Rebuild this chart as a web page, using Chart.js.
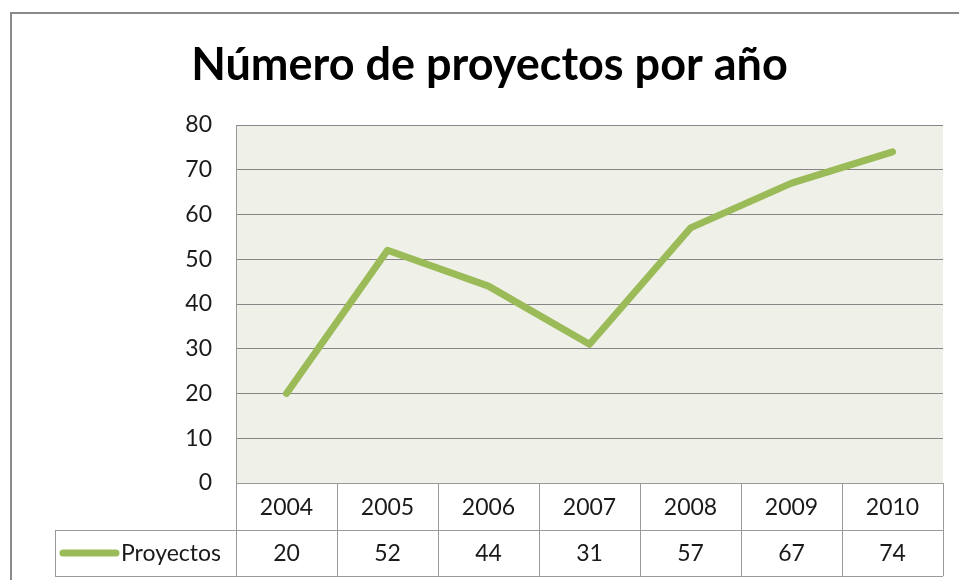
<!DOCTYPE html>
<html>
<head>
<meta charset="utf-8">
<script src="https://cdn.jsdelivr.net/npm/chart.js@4.4.0/dist/chart.umd.min.js"></script>
<style>
  html, body { margin: 0; padding: 0; background: #fff; }
  #wrap { width: 959px; height: 580px; }
</style>
</head>
<body>
<div id="wrap"><canvas id="grafico" width="959" height="580"></canvas></div>
<script>
// datos
const anios = ["2004", "2005", "2006", "2007", "2008", "2009", "2010"];
const proyectos = [20, 52, 44, 31, 57, 67, 74];
const serieNombre = "Proyectos";
const yMin = 0;
const yMax = 80;
const yPaso = 10;

const verde = "#9BBB59";
const gris = "#8a8a8a";
const fuente = "Lato, 'Open Sans', sans-serif";
const tamTexto = 23;

// fondo, marco y zona de trazado
const fondoPlugin = {
  id: "fondo",
  beforeDraw(chart) {
    const ctx = chart.ctx;
    const a = chart.chartArea;
    ctx.save();
    ctx.fillStyle = "#ffffff";
    ctx.fillRect(0, 0, chart.width, chart.height);
    ctx.strokeStyle = gris;
    ctx.lineWidth = 2;
    ctx.strokeRect(11, 13, chart.width + 20, chart.height + 20);
    ctx.fillStyle = "#EFF1E9";
    ctx.fillRect(a.left, a.top, a.right - a.left, a.bottom - a.top);
    ctx.restore();
  },
};

// tabla de datos bajo el gráfico
const tablaPlugin = {
  id: "tabla",
  afterDraw(chart) {
    const ctx = chart.ctx;
    const a = chart.chartArea;
    const x = chart.scales.x;
    const ancho = (a.right - a.left) / anios.length;
    const fila = 47;
    const y0 = a.bottom;
    const y1 = y0 + fila;
    const y2 = y1 + fila - 1;
    const izq = 55;

    ctx.save();
    ctx.strokeStyle = "#9a9a9a";
    ctx.lineWidth = 1;
    ctx.beginPath();
    // líneas horizontales
    ctx.moveTo(a.left, y0 + 0.5);
    ctx.lineTo(a.right, y0 + 0.5);
    ctx.moveTo(izq, y1 + 0.5);
    ctx.lineTo(a.right, y1 + 0.5);
    ctx.moveTo(izq, y2 + 0.5);
    ctx.lineTo(a.right, y2 + 0.5);
    // verticales
    ctx.moveTo(izq + 0.5, y1);
    ctx.lineTo(izq + 0.5, y2);
    for (let i = 0; i <= anios.length; i++) {
      const xx = Math.round(a.left + i * ancho) + 0.5;
      ctx.moveTo(xx, y0);
      ctx.lineTo(xx, y2);
    }
    ctx.stroke();

    ctx.fillStyle = "#1a1a1a";
    ctx.font = tamTexto + "px " + fuente;
    ctx.textAlign = "center";
    ctx.textBaseline = "middle";
    anios.forEach((anio, i) => {
      const cx = x.getPixelForValue(i);
      ctx.fillText(anio, cx, (y0 + y1) / 2 + 1);
      ctx.fillText(String(proyectos[i]), cx, (y1 + y2) / 2 + 1);
    });

    // clave de la leyenda
    ctx.strokeStyle = verde;
    ctx.lineWidth = 7;
    ctx.lineCap = "round";
    ctx.beginPath();
    ctx.moveTo(63, (y1 + y2) / 2);
    ctx.lineTo(116, (y1 + y2) / 2);
    ctx.stroke();
    ctx.textAlign = "left";
    ctx.fillText(serieNombre, 121, (y1 + y2) / 2 + 1);
    ctx.restore();
  },
};

new Chart(document.getElementById("grafico"), {
  type: "line",
  data: {
    labels: anios,
    datasets: [
      {
        label: serieNombre,
        data: proyectos,
        borderColor: verde,
        borderWidth: 7,
        borderCapStyle: "round",
        borderJoinStyle: "round",
        pointRadius: 0,
        tension: 0,
        fill: false,
      },
    ],
  },
  options: {
    responsive: false,
    animation: false,
    layout: {
      padding: { left: 36, right: 16, top: 0, bottom: 97 },
    },
    plugins: {
      legend: { display: false },
      tooltip: { enabled: false },
      title: {
        display: true,
        text: "Número de proyectos por año",
        color: "#000",
        font: { family: fuente, size: 45, weight: "bold" },
        padding: { top: 38, bottom: 33 },
      },
    },
    scales: {
      x: {
        display: false,
        offset: true,
      },
      y: {
        min: yMin,
        max: yMax,
        afterFit(scale) {
          scale.width = 200;
        },
        ticks: {
          stepSize: yPaso,
          padding: 24,
          color: "#1a1a1a",
          font: { family: fuente, size: tamTexto },
        },
        grid: {
          color: "#868686",
          lineWidth: 1,
          drawTicks: false,
        },
        border: { display: true, color: "#9a9a9a", width: 1 },
      },
    },
  },
  plugins: [fondoPlugin, tablaPlugin],
});
</script>
</body>
</html>
